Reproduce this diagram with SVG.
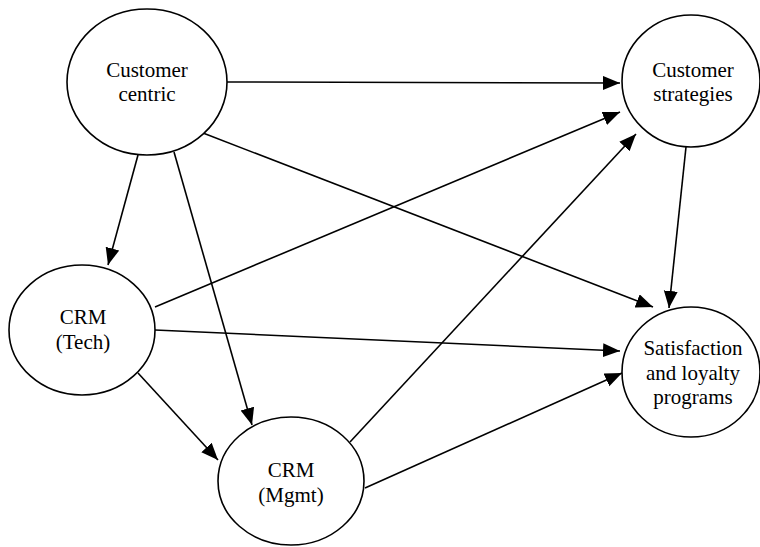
<svg xmlns="http://www.w3.org/2000/svg" width="760" height="547" viewBox="0 0 760 547">
<style>
.node ellipse{fill:#fff;stroke:#000;stroke-width:1.6}
.node text{font-size:21px;text-anchor:middle;fill:#000}
.edge{stroke:#000;stroke-width:1.6;fill:none;marker-end:url(#arr)}
</style>
<defs>
<marker id="arr" markerUnits="userSpaceOnUse" markerWidth="18" markerHeight="15" refX="17" refY="7" orient="auto">
<path d="M0,0 L17,7 L0,14 z" fill="#000"/>
</marker>
</defs>
<rect width="760" height="547" fill="#fff"/>
<g id="connectors">
<line class="edge" x1="227" y1="82" x2="620" y2="83"/>
<line class="edge" x1="138" y1="155" x2="108" y2="265"/>
<line class="edge" x1="174" y1="152" x2="252" y2="425"/>
<line class="edge" x1="203" y1="133" x2="653" y2="307"/>
<line class="edge" x1="686" y1="147" x2="669" y2="308"/>
<line class="edge" x1="155" y1="307" x2="620" y2="112"/>
<line class="edge" x1="155" y1="330" x2="620" y2="351"/>
<line class="edge" x1="138" y1="373" x2="218" y2="460"/>
<line class="edge" x1="350" y1="442" x2="636" y2="134"/>
<line class="edge" x1="365" y1="488" x2="622" y2="373"/>
</g>
<g font-family="'Liberation Serif', 'Times New Roman', 'DejaVu Serif', serif">
<g id="customer-centric" class="node">
<ellipse cx="147" cy="82" rx="80" ry="73"/>
<text x="147" y="77">Customer</text>
<text x="147" y="101">centric</text>
</g>
<g id="customer-strategies" class="node">
<ellipse cx="691" cy="81" rx="69" ry="66"/>
<text x="693" y="77">Customer</text>
<text x="693" y="101">strategies</text>
</g>
<g id="crm-tech" class="node">
<ellipse cx="82" cy="330" rx="73" ry="65"/>
<text x="83" y="324">CRM</text>
<text x="83" y="349">(Tech)</text>
</g>
<g id="crm-mgmt" class="node">
<ellipse cx="291" cy="481" rx="73" ry="64"/>
<text x="291" y="477">CRM</text>
<text x="291" y="502">(Mgmt)</text>
</g>
<g id="satisfaction" class="node">
<ellipse cx="691" cy="372" rx="69" ry="65"/>
<text x="693" y="355">Satisfaction</text>
<text x="693" y="380">and loyalty</text>
<text x="693" y="404">programs</text>
</g>
</g>
</svg>
